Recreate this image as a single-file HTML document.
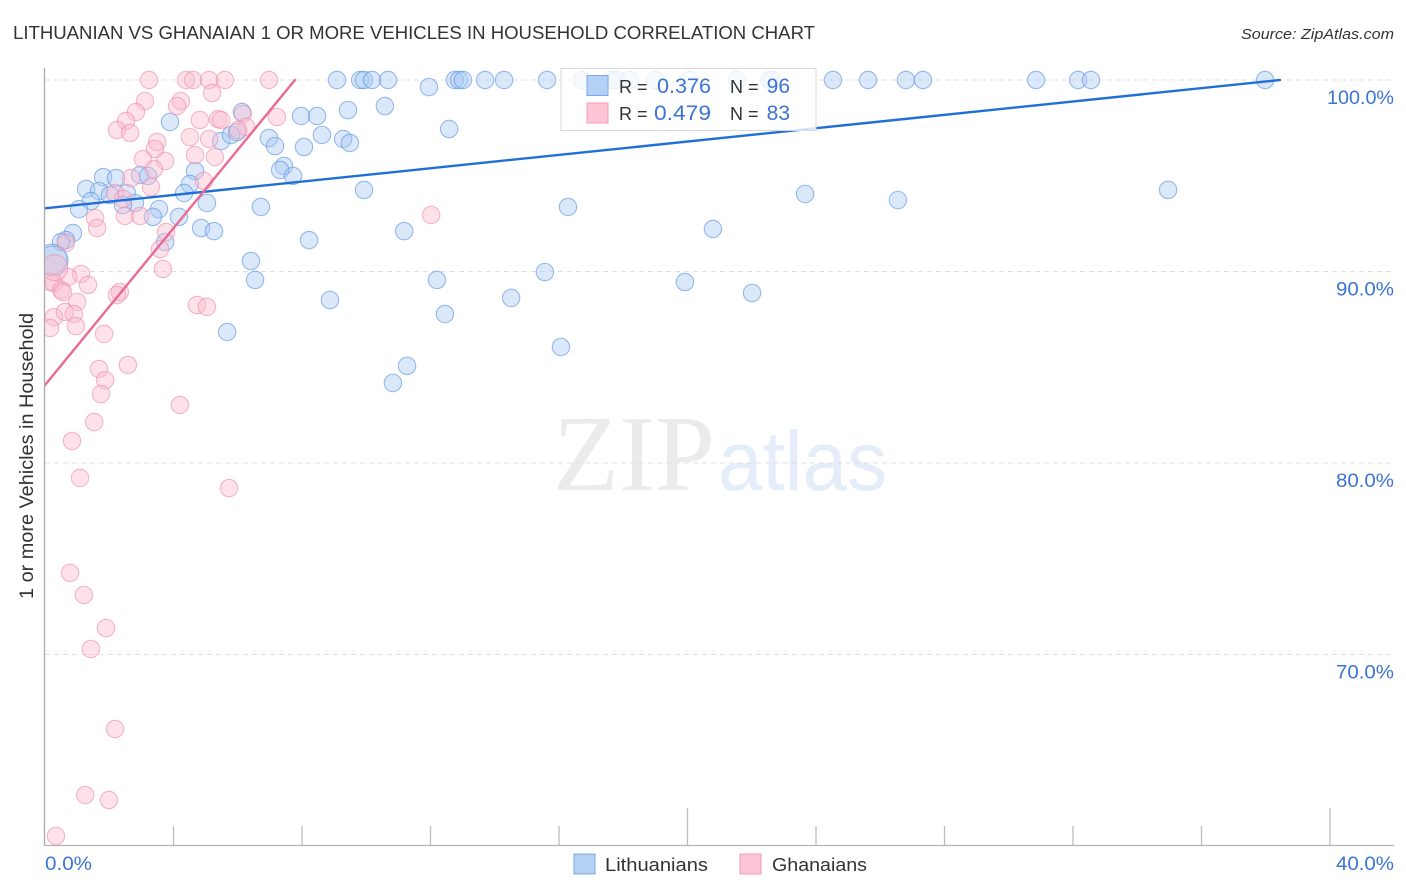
<!DOCTYPE html>
<html lang="en">
<head>
<meta charset="utf-8">
<title>Lithuanian vs Ghanaian 1 or more Vehicles in Household Correlation Chart</title>
<style>
html,body{margin:0;padding:0;background:#fff;width:1406px;height:892px;overflow:hidden}
svg{display:block;font-family:"Liberation Sans",sans-serif}
</style>
</head>
<body>
<svg id="chart" xmlns="http://www.w3.org/2000/svg" width="1406" height="892" viewBox="0 0 1406 892">
  <defs><clipPath id="plot-clip"><rect x="45" y="68" width="1349" height="777"/></clipPath></defs>
  <text x="13" y="39" font-size="18" fill="#333" textLength="802" lengthAdjust="spacingAndGlyphs">LITHUANIAN VS GHANAIAN 1 OR MORE VEHICLES IN HOUSEHOLD CORRELATION CHART</text>
  <text x="1241" y="39" font-size="15" font-style="italic" fill="#333" textLength="153" lengthAdjust="spacingAndGlyphs">Source: ZipAtlas.com</text>
  <g>
    <text x="553" y="490" font-family="'Liberation Serif',serif" font-size="108" fill="#ebebeb" textLength="162" lengthAdjust="spacingAndGlyphs">ZIP</text>
    <text x="718" y="490" font-size="84" fill="#e4edf9" textLength="169" lengthAdjust="spacingAndGlyphs">atlas</text>
  </g>
  <g id="grid"></g>
  <g id="marks" clip-path="url(#plot-clip)"></g>
  <g id="axes"></g>
  <text transform="translate(33,456) rotate(-90)" font-size="19" fill="#333" text-anchor="middle" textLength="286" lengthAdjust="spacingAndGlyphs">1 or more Vehicles in Household</text>
  <g>
    <rect x="561" y="68.5" width="255" height="62" fill="#fff" fill-opacity="0.8" stroke="#d8d8d8" stroke-width="1"/>
    <rect x="587" y="75.5" width="21" height="20" fill="#b4d0f5" stroke="#7ba9e6"/>
    <rect x="587" y="103" width="21" height="20" fill="#fdc5d6" stroke="#f49bb6"/>
    <text x="619" y="93" font-size="18" fill="#333">R =</text>
    <text x="711" y="93" font-size="21" fill="#3b74d4" text-anchor="end" textLength="54" lengthAdjust="spacingAndGlyphs">0.376</text>
    <text x="730" y="93" font-size="18" fill="#333">N =</text>
    <text x="790" y="93" font-size="21" fill="#3b74d4" text-anchor="end">96</text>
    <text x="619" y="120" font-size="18" fill="#333">R =</text>
    <text x="711" y="120" font-size="21" fill="#3b74d4" text-anchor="end" textLength="57" lengthAdjust="spacingAndGlyphs">0.479</text>
    <text x="730" y="120" font-size="18" fill="#333">N =</text>
    <text x="790" y="120" font-size="21" fill="#3b74d4" text-anchor="end">83</text>
  </g>
  <g>
    <rect x="574" y="854" width="21" height="20" fill="#b4d0f5" stroke="#7ba9e6"/>
    <text x="605" y="871" font-size="18" fill="#333" textLength="103" lengthAdjust="spacingAndGlyphs">Lithuanians</text>
    <rect x="740" y="854" width="21" height="20" fill="#fdc5d6" stroke="#f49bb6"/>
    <text x="772" y="871" font-size="18" fill="#333" textLength="95" lengthAdjust="spacingAndGlyphs">Ghanaians</text>
  </g>
</svg>
<script>
const lithuanianX = [9.09,9.81,9.93,10.18,10.68,12.76,12.89,13.01,13.70,14.29,15.63,16.72,17.65,17.81,18.21,18.99,20.05,21.54,22.54,22.63,24.53,25.62,26.80,27.33,30.85,32.16,32.56,37.98,
11.95,10.58,12.58,3.89,6.13,5.48,5.79,5.98,6.97,7.16,7.97,8.47,8.62,8.06,9.28,9.49,9.43,7.44,7.32,7.72,4.67,4.51,4.33,5.04,6.72,4.17,3.55,3.36,4.86,5.26,8.22,6.41,6.54,8.87,5.67,3.74,1.81,2.21,2.96,3.21,1.28,1.68,2.02,2.55,2.80,2.43,1.43,1.06,0.87,0.65,0.50,9.93,11.18,16.28,15.56,12.20,14.51,12.45,11.27,10.83,16.06,19.92,22.01,20.79,23.66,26.55,34.96];
const lithuanianY = [100,100,100,100,100,100,100,100,100,100,100,100,100,100,100,100,100,100,100,100,100,100,100,100,100,100,100,100,
99.63,98.64,97.44,97.81,98.33,96.81,97.13,97.28,96.97,96.55,98.12,98.12,97.13,96.50,96.92,96.71,98.43,95.51,95.30,94.99,95.25,94.57,94.10,93.58,93.37,92.85,93.26,92.85,92.27,92.11,91.64,90.55,89.56,88.51,86.84,91.54,94.93,94.88,95.04,94.99,94.31,94.20,93.99,94.10,93.58,93.47,93.68,93.26,92.01,91.64,91.54,94.26,92.11,93.37,89.97,89.56,88.62,87.78,85.07,84.18,86.06,89.45,88.88,92.22,94.05,93.73,94.26];
const ghanaianX = [3.24,4.39,4.61,5.11,5.60,6.97,5.20,3.11,4.23,4.11,2.83,4.82,5.39,5.48,2.52,2.24,2.65,7.22,6.16,6.26,6.01,4.51,5.11,3.49,3.42,4.67,5.29,3.05,3.74,3.39,2.68,4.95,3.30,2.18,2.43,2.49,2.96,1.56,1.62,3.77,3.58,0.65,3.67,1.12,0.72,1.34,0.16,0.28,0.50,0.56,1.00,2.33,2.24,4.73,5.04,0.28,0.62,0.90,0.96,0.16,1.84,2.58,1.68,1.87,1.74,4.20,1.53,0.84,1.09,5.73,0.78,1.21,1.90,1.43,2.18,1.25,1.99,0.34,12.02];
const ghanaianY = [100,100,100,100,100,100,99.32,98.90,98.90,98.64,98.33,97.91,97.96,97.91,97.86,97.39,97.23,98.07,98.22,97.55,97.39,97.02,96.92,96.76,96.40,96.08,95.98,95.87,95.77,95.35,94.88,94.73,94.41,94.10,93.79,92.90,92.90,92.79,92.27,92.06,91.17,91.49,90.13,89.87,89.71,89.30,89.45,89.40,89.03,88.93,88.41,88.93,88.77,88.25,88.15,87.62,87.89,87.78,87.15,87.05,86.74,85.12,84.91,84.33,83.60,83.03,82.14,81.15,79.22,78.69,74.26,73.11,71.38,70.29,66.11,62.66,62.40,60.52,92.95];
const clusterLithuanianX = [0.22,0.25];
const clusterLithuanianY = [90.65,90.55];
const clusterGhanaianX = [0.3];
const clusterGhanaianY = [90.2];
const trendXLithuanian = [0, 38.44];
const trendYLithuanian = [93.3, 100];
const trendXGhanaian = [0, 7.78];
const trendYGhanaian = [84.07, 100];
const yTickValues = [100, 90, 80, 70];
const yTickLabels = ['100.0%', '90.0%', '80.0%', '70.0%'];
const xTickValues = [4, 8, 12, 16, 20, 24, 28, 32, 36, 40];
const xMajorTicks = [20, 40];
const xEndLabels = ['0.0%', '40.0%'];

const NS = 'http://www.w3.org/2000/svg';
function xScale(v) { return 45 + v * 32.125; }
function yScale(v) { return 80 + (100 - v) * 19.15; }
function make(tag, attrs, parent) {
  const el = document.createElementNS(NS, tag);
  for (const k in attrs) el.setAttribute(k, attrs[k]);
  parent.appendChild(el);
  return el;
}
const grid = document.getElementById('grid');
const marks = document.getElementById('marks');
const axes = document.getElementById('axes');

yTickValues.forEach(function (v, i) {
  const line = make('line', {x1: 45, x2: 1394, y1: yScale(v), y2: yScale(v), stroke: '#e0e0e0', 'stroke-width': 1, 'stroke-dasharray': '5 4'}, grid);
  
  
  const label = make('text', {x: 1394, y: yScale(v) + 24, 'font-size': 19, fill: '#3b74d4', 'text-anchor': 'end', textLength: v === 100 ? 67 : 58, lengthAdjust: 'spacingAndGlyphs'}, axes);
  label.textContent = yTickLabels[i];
  
  
});

function drawPoints(xs, ys, r, fill, stroke, name) {
  xs.forEach(function (x, i) {
    if (ys[i] === undefined) return;
    const c = make('circle', {cx: xScale(x), cy: yScale(ys[i]), r: r, fill: fill, 'fill-opacity': 0.42, stroke: stroke, 'stroke-opacity': 0.62, 'stroke-width': 1.1}, marks);
    
    
  });
}
drawPoints(lithuanianX, lithuanianY, 8.7, '#a9c9f2', '#5b95e2', 'point-lithuanian');
drawPoints(clusterLithuanianX, clusterLithuanianY, 15, '#a9c9f2', '#5b95e2', 'point-lithuanian-cluster');
drawPoints(ghanaianX, ghanaianY, 8.7, '#fbb9cc', '#f08cab', 'point-ghanaian');
drawPoints(clusterGhanaianX, clusterGhanaianY, 13, '#fbb9cc', '#f08cab', 'point-ghanaian-cluster');

const trendBlue = make('line', {x1: xScale(trendXLithuanian[0]), y1: yScale(trendYLithuanian[0]), x2: xScale(trendXLithuanian[1]), y2: yScale(trendYLithuanian[1]), stroke: '#1f6fd6', 'stroke-width': 2.4, 'stroke-linecap': 'round'}, marks);


const trendPink = make('line', {x1: xScale(trendXGhanaian[0]), y1: yScale(trendYGhanaian[0]), x2: xScale(trendXGhanaian[1]), y2: yScale(trendYGhanaian[1]), stroke: '#ea6a93', 'stroke-width': 2.4, 'stroke-linecap': 'round'}, marks);



const yAxis = make('line', {x1: 44.5, x2: 44.5, y1: 68, y2: 846, stroke: '#aaaaaa', 'stroke-width': 1.3}, axes);


const xAxis = make('line', {x1: 44, x2: 1394, y1: 845.5, y2: 845.5, stroke: '#b4b4b4', 'stroke-width': 1.3}, axes);


xTickValues.forEach(function (v) {
  const top = xMajorTicks.indexOf(v) >= 0 ? 808 : 826;
  const t = make('line', {x1: xScale(v), x2: xScale(v), y1: top, y2: 845, stroke: '#bdbdbd', 'stroke-width': 1.3}, axes);
  
  
});
const xLabelLeft = make('text', {x: 45, y: 870, 'font-size': 19, fill: '#3b74d4', textLength: 47, lengthAdjust: 'spacingAndGlyphs'}, axes);
xLabelLeft.textContent = xEndLabels[0];


const xLabelRight = make('text', {x: 1394, y: 870, 'font-size': 19, fill: '#3b74d4', 'text-anchor': 'end', textLength: 58, lengthAdjust: 'spacingAndGlyphs'}, axes);
xLabelRight.textContent = xEndLabels[1];


</script>
</body>
</html>
